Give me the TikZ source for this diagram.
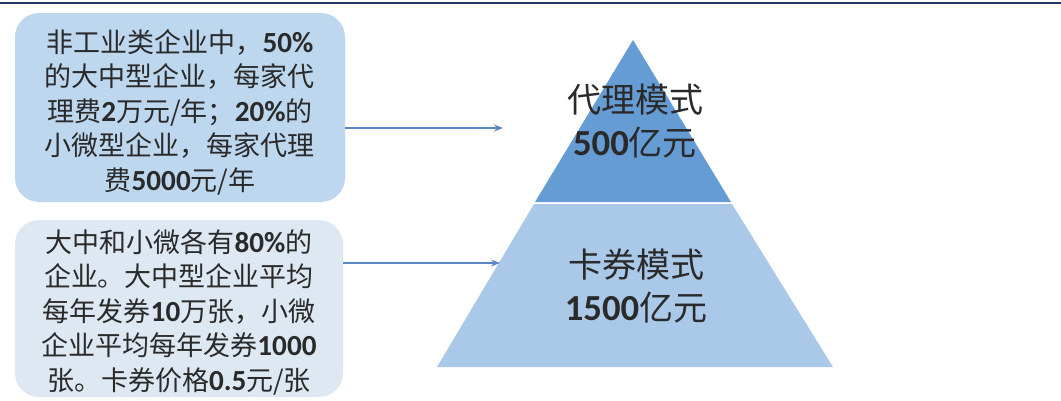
\documentclass[tikz,border=0pt]{standalone}
\usepackage{fontspec}
\setmainfont{Noto Sans CJK SC}
\newfontfamily\digitfont[Scale=1.08]{Carlito}
\usetikzlibrary{arrows.meta}
\newcommand\nm[1]{{\digitfont\bfseries #1}}
\definecolor{navy}{HTML}{1F3864}
\definecolor{boxA}{HTML}{BDD7EE}
\definecolor{boxB}{HTML}{DEE8F3}
\definecolor{triTop}{HTML}{669CD4}
\definecolor{triBot}{HTML}{AAC8E8}
\definecolor{arrc}{HTML}{5B87C5}
\definecolor{txt}{HTML}{2A2A2A}
\tikzset{
  infobox/.style={rounded corners=24pt, inner sep=0pt, align=center, text=txt,
    font=\fontsize{27}{34.5}\selectfont},
  lvl/.style={align=center, text=txt, font=\fontsize{34}{43}\selectfont},
  arr/.style={draw=arrc, line width=1.2pt, -{Stealth[length=9pt,width=7pt]}}
}
\begin{document}
\begin{tikzpicture}[x=1pt,y=-1pt]
\useasboundingbox (0,0) rectangle (1061,400);
\fill[white] (0,0) rectangle (1061,400);
\draw[navy, line width=2pt] (0,3) -- (1061,3);
% boxes
\node[infobox, fill=boxA, minimum width=330pt, minimum height=189pt] (b1) at (180,107.5) {};
\node[infobox, anchor=center] (b1t) at (180,112)
 {非工业类企业中，\nm{50\%}\\的大中型企业，每家代\\理费\nm{2}万元/年；\nm{20\%}的\\小微型企业，每家代理\\费\nm{5000}元/年};
\node[infobox, fill=boxB, minimum width=328pt, minimum height=177pt] (b2) at (179,308.5) {};
\node[infobox, anchor=center] (b2t) at (179,312)
 {大中和小微各有\nm{80\%}的\\企业。大中型企业平均\\每年发券\nm{10}万张，小微\\企业平均每年发券\nm{1000}\\张。卡券价格\nm{0.5}元/张};
% pyramid
\fill[triTop] (633,40) -- (731,202) -- (535,202) -- cycle;
\fill[triBot] (534,204) -- (732,204) -- (833,367) -- (437,367) -- cycle;
\node[lvl] (t1) at (635,121) {代理模式\\\nm{500}亿元};
\node[lvl] (t2) at (636,286) {卡券模式\\\nm{1500}亿元};
% arrows
\coordinate (a1) at (503,128);
\coordinate (a2) at (500,263);
\draw[arr] (b1.east |- a1) -- (a1);
\draw[arr] (b2.east |- a2) -- (a2);
\end{tikzpicture}
\end{document}
